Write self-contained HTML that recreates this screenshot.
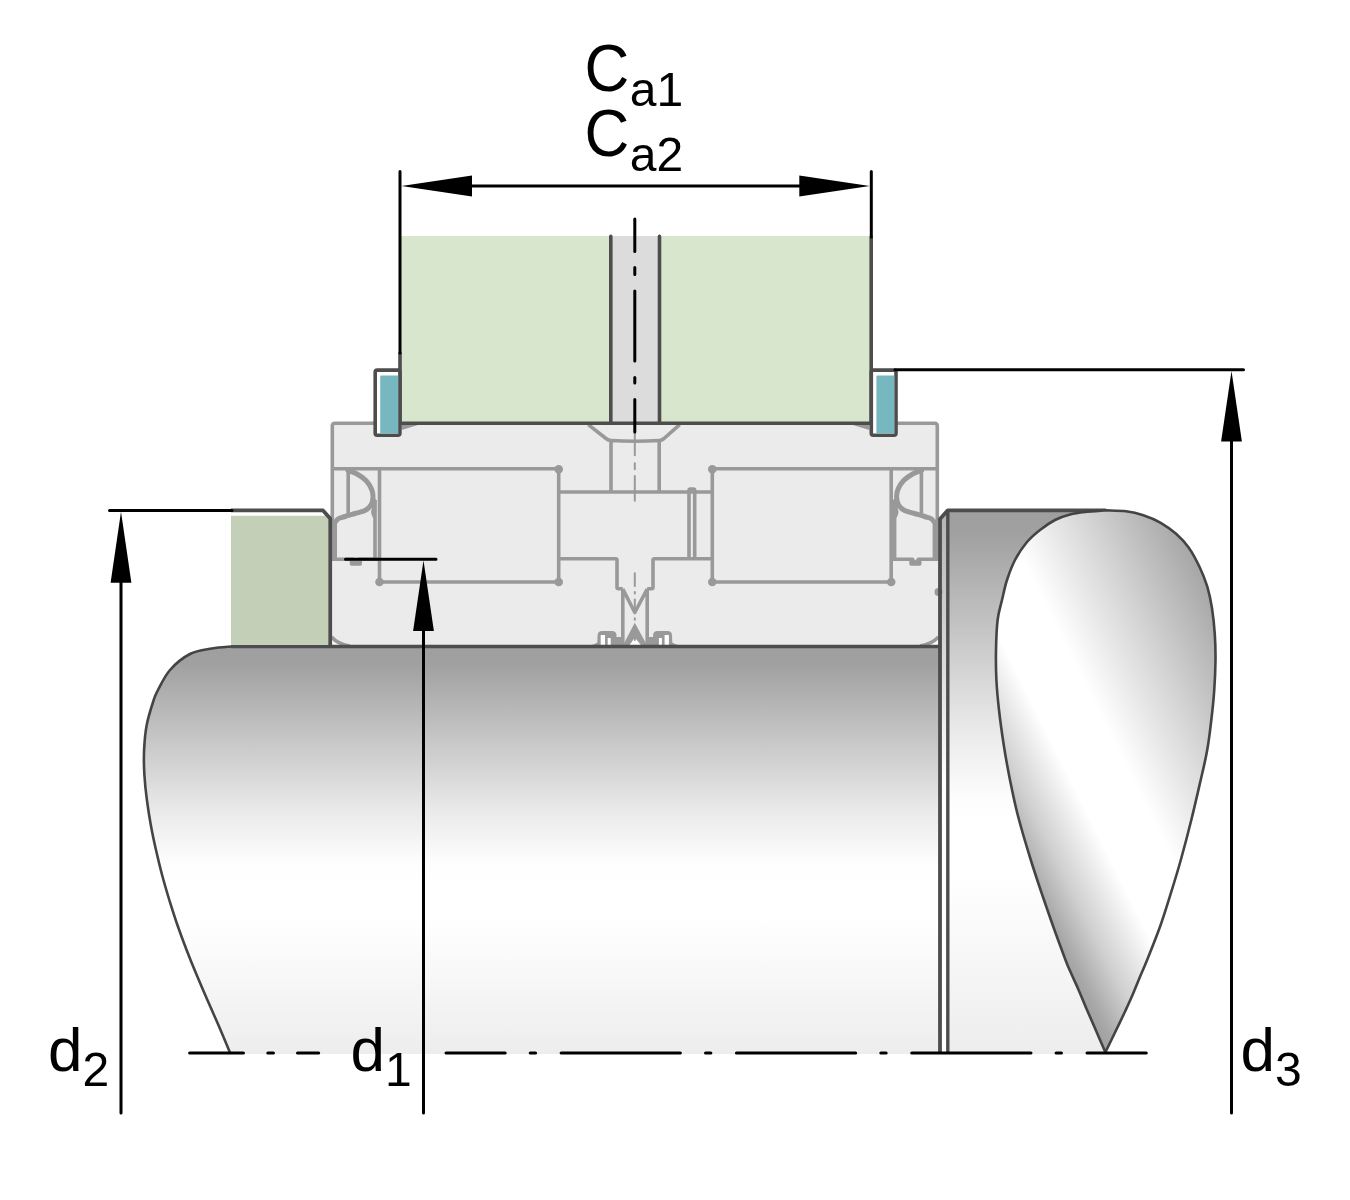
<!DOCTYPE html>
<html><head><meta charset="utf-8"><title>Bearing abutment dimensions</title>
<style>
html,body{margin:0;padding:0;background:#ffffff;}
body{width:1350px;height:1200px;overflow:hidden;font-family:"Liberation Sans",sans-serif;}
svg{display:block;}
</style></head><body>
<svg width="1350" height="1200" viewBox="0 0 1350 1200">
<rect x="0" y="0" width="1350" height="1200" fill="#ffffff"/>
<defs>
<linearGradient id="gs" x1="0" y1="0" x2="0" y2="1">
<stop offset="0" stop-color="#9f9f9f"/><stop offset="0.04" stop-color="#a0a0a0"/><stop offset="0.25" stop-color="#cbcbcb"/><stop offset="0.40" stop-color="#e9e9e9"/><stop offset="0.53" stop-color="#fdfdfd"/><stop offset="0.58" stop-color="#ffffff"/><stop offset="0.67" stop-color="#ffffff"/><stop offset="1" stop-color="#ededed"/>
</linearGradient>
<linearGradient id="gd" x1="0" y1="0" x2="0" y2="1">
<stop offset="0" stop-color="#b4b4b4"/><stop offset="0.3" stop-color="#dddddd"/><stop offset="0.5" stop-color="#ffffff"/><stop offset="1" stop-color="#ffffff"/>
</linearGradient>
<linearGradient id="gt" gradientUnits="userSpaceOnUse" x1="1105" y1="1070" x2="1382.1" y2="931.4">
<stop offset="0" stop-color="#9a9a9a"/><stop offset="0.065" stop-color="#a8a8a8"/><stop offset="0.165" stop-color="#d0d0d0"/><stop offset="0.2" stop-color="#dadada"/><stop offset="0.32" stop-color="#ffffff"/><stop offset="0.5" stop-color="#ffffff"/><stop offset="0.74" stop-color="#d5d5d5"/><stop offset="1" stop-color="#a6a6a6"/>
</linearGradient>
</defs>
<path d="M231.0,646.5 C227.8,646.8 218.8,647.2 212.0,648.5 C205.2,649.8 197.0,650.4 190.0,654.0 C183.0,657.6 175.3,664.0 170.0,670.0 C164.7,676.0 160.7,685.0 158.0,690.0 C155.3,695.0 155.6,694.2 153.7,700.0 C151.8,705.8 148.3,716.7 146.7,725.0 C145.1,733.3 144.5,741.7 144.1,750.0 C143.7,758.3 143.9,766.7 144.4,775.0 C144.9,783.3 145.8,791.7 146.9,800.0 C148.0,808.3 149.3,816.7 150.8,825.0 C152.3,833.3 154.1,841.7 156.0,850.0 C157.9,858.3 159.9,866.7 162.1,875.0 C164.3,883.3 166.8,891.7 169.3,900.0 C171.9,908.3 174.5,916.7 177.4,925.0 C180.3,933.3 183.4,941.7 186.6,950.0 C189.8,958.3 193.2,966.7 196.7,975.0 C200.2,983.3 203.8,991.7 207.4,1000.0 C211.0,1008.3 214.8,1016.7 218.4,1025.0 C222.0,1033.3 227.0,1045.4 228.9,1050.0 C230.8,1054.6 229.7,1052.1 229.9,1052.5 L230.3,1054 L940,1054 L940,646.5 Z" fill="url(#gs)"/>
<path d="M231.0,646.5 C227.8,646.8 218.8,647.2 212.0,648.5 C205.2,649.8 197.0,650.4 190.0,654.0 C183.0,657.6 175.3,664.0 170.0,670.0 C164.7,676.0 160.7,685.0 158.0,690.0 C155.3,695.0 155.6,694.2 153.7,700.0 C151.8,705.8 148.3,716.7 146.7,725.0 C145.1,733.3 144.5,741.7 144.1,750.0 C143.7,758.3 143.9,766.7 144.4,775.0 C144.9,783.3 145.8,791.7 146.9,800.0 C148.0,808.3 149.3,816.7 150.8,825.0 C152.3,833.3 154.1,841.7 156.0,850.0 C157.9,858.3 159.9,866.7 162.1,875.0 C164.3,883.3 166.8,891.7 169.3,900.0 C171.9,908.3 174.5,916.7 177.4,925.0 C180.3,933.3 183.4,941.7 186.6,950.0 C189.8,958.3 193.2,966.7 196.7,975.0 C200.2,983.3 203.8,991.7 207.4,1000.0 C211.0,1008.3 214.8,1016.7 218.4,1025.0 C222.0,1033.3 227.0,1045.4 228.9,1050.0 C230.8,1054.6 229.7,1052.1 229.9,1052.5" fill="none" stroke="#444444" stroke-width="2.6"/>
<path d="M947.8,510.3 L1106,510.3 L1106,1054 L947.8,1054 Z" fill="url(#gs)"/>
<path d="M940,519 L947.8,510.3 L947.8,1053 L940,1053 Z" fill="url(#gd)"/>
<path d="M335,423.3 L934.6,423.3 Q937.3,423.3 937.3,426 L937.3,521 L939,521 L939,637 Q932,644 920,646.5 L349.6,646.5 Q337.6,644 331,637 L331,521 L332.3,521 L332.3,426 Q332.3,423.3 335,423.3 Z" fill="#ebebeb"/>
<path d="M332.3,521 L332.3,426 Q332.3,423.3 335,423.3 L934.6,423.3 Q937.3,423.3 937.3,426 L937.3,521 M331.5,637 Q337.6,644 349.6,646 M938.5,637 Q932,644 920,646 M332.3,468.8 L558.7,468.8 M712.3,468.8 L937.3,468.8 M379.5,468.8 L379.5,582 L558.7,582 L558.7,468.8 M891.2,468.8 L891.2,582 L712.3,582 L712.3,468.8 M558.7,492 L712.3,492 M558.7,558.7 L615.5,558.7 Q617,558.7 617,560.2 L617,587.2 Q617,588.7 618.5,588.7 L622.8,588.7 M712.3,558.7 L654.5,558.7 Q653,558.7 653,560.2 L653,587.2 Q653,588.7 651.5,588.7 L647.2,588.7 M622.8,588.7 L622.8,645 M647.2,588.7 L647.2,645 M622.8,589 L634.8,612.5 L647.2,589 M689,558.7 L689,490.5 Q689,489 690.5,489 L693.2,489 Q694.7,489 694.7,490.5 L694.7,558.7 M588.3,424.7 L606,438.5 Q608.3,440.3 611,440.5 Q634.8,442 659.2,440.5 Q661.7,440.3 664,438.5 L679.7,424.7 M611,440.5 L611,492 M659.2,440.5 L659.2,492 M348.2,468.8 L348.2,514 M332.0,559.2 L379.5,559.2 M375.0,500 L375.0,559.2 M921.4,468.8 L921.4,514 M937.6,559.2 L890.1,559.2 M894.6,500 L894.6,559.2" fill="none" stroke="#999999" stroke-width="3.6" stroke-linejoin="round" stroke-linecap="butt"/>
<path d="M334.2,520 L334.2,560.9" fill="none" stroke="#999999" stroke-width="5.6" stroke-linecap="butt"/>
<path d="M935.4,520 L935.4,560.9" fill="none" stroke="#999999" stroke-width="5.6" stroke-linecap="butt"/>
<path d="M348.0,470.5 C349.5,471.1 354.0,472.3 357.0,474.0 C360.0,475.7 363.6,478.0 366.0,480.5 C368.4,483.0 370.3,486.2 371.5,489.0 C372.7,491.8 373.1,494.3 373.0,497.0 C372.9,499.7 372.3,502.8 371.0,505.0 C369.7,507.2 367.7,509.1 365.0,510.5 C362.3,511.9 358.3,512.5 355.0,513.5 C351.7,514.5 347.8,515.6 345.0,516.5 C342.2,517.4 340.0,517.8 338.5,518.6 C337.0,519.4 336.2,521.0 335.8,521.5" fill="none" stroke="#999999" stroke-width="5" stroke-linecap="round"/>
<path d="M374.0,497 Q372.5,506 371.0,512 Q372.0,518 375.5,520 L376.5,500 Z" fill="#999999"/>
<rect x="349.8" y="558" width="12.2" height="7.8" rx="1.8" fill="#999999"/>
<path d="M353.4,557 L355.9,560.6 L358.4,557 Z" fill="#ebebeb"/>
<path d="M921.6,470.5 C920.1,471.1 915.6,472.3 912.6,474.0 C909.6,475.7 906.0,478.0 903.6,480.5 C901.2,483.0 899.3,486.2 898.1,489.0 C896.9,491.8 896.5,494.3 896.6,497.0 C896.7,499.7 897.3,502.8 898.6,505.0 C899.9,507.2 901.9,509.1 904.6,510.5 C907.3,511.9 911.3,512.5 914.6,513.5 C917.9,514.5 921.8,515.6 924.6,516.5 C927.3,517.4 929.6,517.8 931.1,518.6 C932.6,519.4 933.3,521.0 933.8,521.5" fill="none" stroke="#999999" stroke-width="5" stroke-linecap="round"/>
<path d="M895.6,497 Q897.1,506 898.6,512 Q897.6,518 894.1,520 L893.1,500 Z" fill="#999999"/>
<rect x="909.3" y="558" width="12.2" height="7.8" rx="1.8" fill="#999999"/>
<path d="M912.9,557 L915.4,560.6 L917.9,557 Z" fill="#ebebeb"/>
<circle cx="558.7" cy="469.3" r="4.3" fill="#999999"/>
<circle cx="379.5" cy="582.0" r="4.3" fill="#999999"/>
<circle cx="558.7" cy="582.0" r="4.3" fill="#999999"/>
<circle cx="712.3" cy="469.3" r="4.3" fill="#999999"/>
<circle cx="712.3" cy="582.0" r="4.3" fill="#999999"/>
<circle cx="891.2" cy="582.0" r="4.3" fill="#999999"/>
<circle cx="938.5" cy="592" r="4" fill="#999999"/>
<path d="M590.0,645.5 L594.0,644.3 L597.3,642.5 L597.6,635 Q598.0,631 602.0,631 L612.0,631 Q616.2,631 616.5,635 L616.5,637 L622.8,637 L622.8,645.5 Z" fill="#999999"/>
<rect x="600.7" y="635" width="4.3" height="10" fill="#ffffff"/>
<rect x="607.7" y="638" width="3" height="7.5" fill="#ffffff"/>
<path d="M679.6,645.5 L675.6,644.3 L672.3,642.5 L672.0,635 Q671.6,631 667.6,631 L657.6,631 Q653.4,631 653.1,635 L653.1,637 L646.8,637 L646.8,645.5 Z" fill="#999999"/>
<rect x="664.6" y="635" width="4.3" height="10" fill="#ffffff"/>
<rect x="658.9" y="638" width="3" height="7.5" fill="#ffffff"/>
<path d="M622.8,645.5 L634.8,622.8 L647.2,645.5 Z" fill="#999999"/>
<path d="M629.3,645.5 L634.8,637.5 L641.3,645.5 Z" fill="#ffffff"/>
<path d="M634.8,432.7 L634.8,455.3 M634.8,463.3 L634.8,469.3 M634.8,476 L634.8,500.7 M634.8,573.3 L634.8,586 M634.8,592 L634.8,593.4 M634.8,599.5 L634.8,610 M634.8,618.3 L634.8,619.7 M634.8,626 L634.8,640" fill="none" stroke="#999999" stroke-width="2" stroke-linecap="round"/>
<path d="M940,1053 L940,519 L947.8,510.3 L1106,510.3" fill="none" stroke="#4d4d4d" stroke-width="3.8" stroke-linejoin="round"/>
<path d="M947.8,510.3 L947.8,1053" fill="none" stroke="#4d4d4d" stroke-width="3.4"/>
<path d="M231,646.5 L940,646.5" fill="none" stroke="#4d4d4d" stroke-width="3.6"/>
<path d="M1106.0,510.3 C1109.3,510.5 1119.8,510.5 1126.0,511.3 C1132.2,512.1 1137.5,513.3 1143.3,515.2 C1149.1,517.1 1155.3,519.7 1160.7,522.8 C1166.1,525.9 1171.1,529.5 1175.8,533.6 C1180.5,537.8 1184.8,542.1 1188.8,547.7 C1192.8,553.3 1196.6,560.7 1199.7,567.2 C1202.8,573.7 1205.2,579.9 1207.3,586.7 C1209.3,593.6 1210.8,600.4 1212.0,608.3 C1213.2,616.2 1214.2,625.6 1214.8,634.3 C1215.4,643.0 1215.6,650.9 1215.5,660.3 C1215.4,669.7 1214.9,680.6 1214.2,690.7 C1213.5,700.8 1212.4,711.1 1211.2,721.0 C1210.0,730.9 1209.0,740.2 1207.2,750.0 C1205.5,759.8 1203.4,768.3 1200.7,780.0 C1198.0,791.7 1194.6,806.7 1191.3,820.0 C1188.0,833.3 1184.2,847.8 1180.8,860.0 C1177.4,872.2 1174.3,882.2 1170.8,893.3 C1167.3,904.4 1164.0,915.6 1160.0,926.7 C1156.0,937.8 1150.4,951.7 1147.1,960.0 C1143.8,968.3 1142.4,970.9 1140.0,976.7 C1137.6,982.5 1135.1,988.9 1132.5,995.0 C1129.9,1001.1 1127.1,1007.0 1124.2,1013.3 C1121.3,1019.5 1118.1,1026.0 1115.0,1032.5 C1111.9,1039.0 1107.0,1049.0 1105.4,1052.3  C1103.7,1048.3 1098.1,1035.5 1095.0,1028.3 C1091.9,1021.1 1089.5,1015.7 1086.7,1009.2 C1083.9,1002.7 1081.1,995.6 1078.3,989.2 C1075.5,982.8 1072.1,975.7 1070.0,970.8 C1067.9,965.9 1068.3,967.4 1065.5,960.0 C1062.7,952.6 1057.3,937.8 1053.3,926.7 C1049.3,915.6 1045.5,904.4 1041.7,893.3 C1038.0,882.2 1034.8,872.9 1030.8,860.0 C1026.8,847.1 1021.5,829.3 1018.0,816.0 C1014.5,802.7 1012.4,792.0 1010.0,780.0 C1007.6,768.0 1005.4,755.7 1003.6,744.0 C1001.8,732.3 1000.2,720.7 999.0,710.0 C997.8,699.3 996.9,690.0 996.4,680.0 C995.9,670.0 995.8,660.0 996.0,650.0 C996.2,640.0 996.6,628.3 997.6,620.0 C998.6,611.7 1000.4,606.7 1002.0,600.0 C1003.6,593.3 1004.8,586.7 1007.0,580.0 C1009.2,573.3 1011.7,566.3 1015.0,560.0 C1018.3,553.7 1022.8,547.0 1027.0,542.0 C1031.2,537.0 1035.3,533.7 1040.0,530.0 C1044.7,526.3 1050.0,522.6 1055.0,520.0 C1060.0,517.4 1065.0,515.8 1070.0,514.5 C1075.0,513.2 1079.0,512.7 1085.0,512.0 C1091.0,511.3 1102.5,510.6 1106.0,510.3 Z" fill="url(#gt)" stroke="#444444" stroke-width="2.6" stroke-linejoin="round"/>
<rect x="400" y="236" width="210.8" height="187.3" fill="#d9e6ce"/>
<rect x="659.5" y="236" width="211.5" height="187.3" fill="#d9e6ce"/>
<rect x="610.8" y="236" width="48.7" height="187.3" fill="#dcdcdc"/>
<path d="M401.7,425 L418,425 L401.7,430 Z" fill="#999999"/>
<path d="M869.3,425 L853,425 L869.3,430 Z" fill="#999999"/>
<path d="M400,353 L400,423.3 L871.2,423.3 L871.2,237 M610.8,236.4 L610.8,423.3 M659.5,236.4 L659.5,423.3" fill="none" stroke="#4d4d4d" stroke-width="3.6" stroke-linejoin="miter" stroke-linecap="round"/>
<rect x="375.2" y="370.1" width="24.7" height="65.1" rx="2" fill="#ffffff" stroke="#4d4d4d" stroke-width="3.6"/>
<rect x="871.3" y="370.1" width="24.7" height="65.1" rx="2" fill="#ffffff" stroke="#4d4d4d" stroke-width="3.6"/>
<path d="M380.2,376.5 Q380.2,375.5 381.2,375.5 L398.2,375.5 L398.2,433.4 L380.2,433.4 Z" fill="#77b8c0"/>
<path d="M876.4,376.5 Q876.4,375.5 877.4,375.5 L894.3,375.5 L894.3,433.4 L876.4,433.4 Z" fill="#77b8c0"/>
<path d="M231,515.8 L325.5,515.8 L328.4,518.8 L328.4,644.7 L231,644.7 Z" fill="#c3cfb7"/>
<path d="M231,510.4 L323,510.4 L330.2,518.5 L330.2,646" fill="none" stroke="#4d4d4d" stroke-width="3.8" stroke-linejoin="round"/>
<path d="M400,171.5 L400,353 M871.3,171.5 L871.3,237 M470,186.0 L800,186.0 M109.5,510.4 L232,510.4 M121,580 L121,1113 M345.5,559.2 L436,559.2 M423.5,630 L423.5,1113 M895,369.7 L1243.5,369.7 M1231.5,440 L1231.5,1113" fill="none" stroke="#000000" stroke-width="3" stroke-linecap="round"/>
<path d="M401.5,186.0 L472,175.6 L472,196.4 Z" fill="#000000"/>
<path d="M869.8,186.0 L799.3,175.6 L799.3,196.4 Z" fill="#000000"/>
<path d="M121,511.8 L110.6,582.7 L131.4,582.7 Z" fill="#000000"/>
<path d="M423.5,560.5 L413.1,631 L433.9,631 Z" fill="#000000"/>
<path d="M1231.5,371 L1221.1,441.5 L1241.9,441.5 Z" fill="#000000"/>
<path d="M634.8,219 L634.8,251.5 M634.8,267.5 L634.8,274.5 M634.8,291 L634.8,361 M634.8,377.5 L634.8,383 M634.8,399.5 L634.8,432" fill="none" stroke="#000000" stroke-width="3" stroke-linecap="round"/>
<path d="M189.7,1053 L243.4,1053 M267.9,1053 L273.4,1053 M297.6,1053 L318.6,1053 M446.1,1053 L505.1,1053 M561.2,1053 L680.3,1053 M530.3,1053 L535.5,1053 M736.5,1053 L855.6,1053 M705.6,1053 L710.8,1053 M911.8,1053 L1030.9,1053 M880.9,1053 L886.1,1053 M1087.1,1053 L1146.2,1053 M1056.2,1053 L1061.4,1053" fill="none" stroke="#000000" stroke-width="3.2" stroke-linecap="round"/>
<g opacity="0.999">
<text transform="translate(584.5,91.2) scale(1,1.066)" font-size="62" font-family="Liberation Sans, sans-serif" fill="#000">C</text>
<text x="629.8" y="105.7" font-size="48" font-family="Liberation Sans, sans-serif" fill="#000">a1</text>
<text transform="translate(584.5,156.4) scale(1,1.066)" font-size="62" font-family="Liberation Sans, sans-serif" fill="#000">C</text>
<text x="629.8" y="171.2" font-size="48" font-family="Liberation Sans, sans-serif" fill="#000">a2</text>
<text x="47.9" y="1071" font-size="62" font-family="Liberation Sans, sans-serif" fill="#000">d<tspan font-size="48" dy="15">2</tspan></text>
<text x="350.5" y="1071" font-size="62" font-family="Liberation Sans, sans-serif" fill="#000">d<tspan font-size="48" dy="15">1</tspan></text>
<text x="1240.5" y="1071" font-size="62" font-family="Liberation Sans, sans-serif" fill="#000">d<tspan font-size="48" dy="15">3</tspan></text>
</g>
</svg>
</body></html>
